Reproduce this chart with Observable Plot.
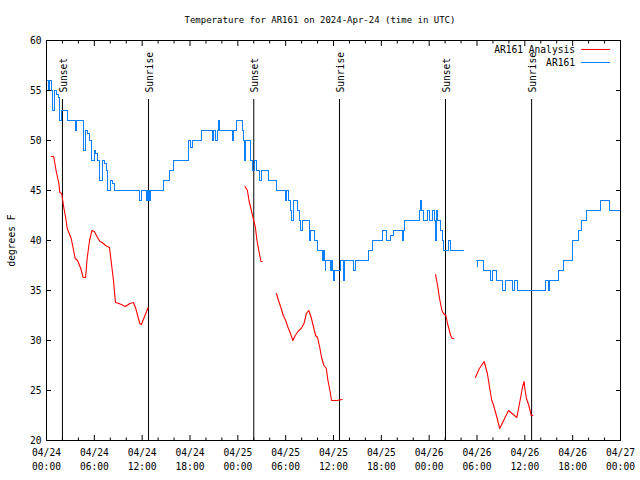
<!DOCTYPE html>
<html><head><meta charset="utf-8">
<script src="https://cdn.jsdelivr.net/npm/d3@7"></script>
<script src="https://cdn.jsdelivr.net/npm/@observablehq/plot@0.6"></script>
<style>
body{margin:0;background:#fff;}
#wrap{position:relative;width:640px;height:480px;font-family:"DejaVu Sans Mono",monospace;font-size:9.6px;color:#000;background:#fff;}
#title{height:30px;box-sizing:border-box;padding-top:14px;line-height:12px;text-align:center;white-space:pre;font-size:9px;}
.lt{position:absolute;right:65px;line-height:12px;white-space:pre;}
.ll{position:absolute;left:581px;width:29px;height:1px;}
</style>
</head><body>
<div id="wrap">
  <div id="title"></div>
  <div id="chart"></div>
  <div id="legend"></div>
</div>
<script>
const titleText = "Temperature for AR161 on 2024-Apr-24 (time in UTC)";
const yLabel = "degrees F";
const seriesNames = ["AR161 Analysis", "AR161"];
const seriesColors = ["#ff0000", "#0a80ff"];

// hours since 04/24 00:00 UTC
const xTicks = [0, 6, 12, 18, 24, 30, 36, 42, 48, 54, 60, 66, 72];
const xMinorTicks = [2, 4, 8, 10, 14, 16, 20, 22, 26, 28, 32, 34, 38, 40, 44, 46, 50, 52, 56, 58, 62, 64, 68, 70];
const xTickLabels = ["04/24\n00:00","04/24\n06:00","04/24\n12:00","04/24\n18:00","04/25\n00:00","04/25\n06:00","04/25\n12:00","04/25\n18:00","04/26\n00:00","04/26\n06:00","04/26\n12:00","04/26\n18:00","04/27\n00:00"];
const yTicks = [20, 25, 30, 35, 40, 45, 50, 55, 60];

const sunT = [2.0, 12.8, 26.0, 36.75, 50.05, 60.85];
const sunLabels = ["Sunset", "Sunrise", "Sunset", "Sunrise", "Sunset", "Sunrise"];

// AR161 observations (step)
const obsT = [0.05,0.27,0.33,0.62,0.70,0.98,1.28,1.45,1.65,1.92,2.6,3.68,3.82,4.68,4.92,5.2,5.45,5.6,5.98,6.2,6.45,6.65,7.05,7.25,7.5,7.65,8.05,8.3,8.5,11.7,11.88,12.6,12.68,12.78,12.88,12.98,13.1,14.7,15.4,15.95,17.8,18.05,18.3,19.5,20.82,20.95,21.25,21.4,21.55,21.75,23.3,23.45,23.85,24.55,24.75,24.85,25.0,25.55,25.85,26.05,26.35,26.75,26.95,27.9,28.85,29.95,30.1,30.3,30.55,30.75,30.95,31.45,31.7,31.9,32.05,32.95,33.15,33.65,33.95,34.6,34.75,34.85,34.95,35.05,35.45,35.6,35.75,35.85,36.0,36.15,36.9,37.2,37.4,38.55,38.75,40.35,40.85,42.15,42.6,43.2,43.55,44.6,44.75,44.95,46.8,46.95,47.05,47.25,47.75,48.05,48.45,48.65,48.8,48.92,49.1,49.45,49.65,49.8,50.4,50.7,52.27,52.28,53.9,54.0,54.1,54.85,55.75,55.95,56.4,57.25,57.55,58.45,58.65,59.1,62.65,62.95,63.15,64.2,64.85,65.95,66.75,67.15,67.7,69.45,70.6,72.0];
const obsV = [56,55,56,55,53,55,54.6,54.3,52,53,52,51,52,49,51,50.7,50,48,49,48.7,48,46,48,47.7,47,45,46,45.7,45,44,45,44,45,44,45,44,45,46,47,48,50,49.3,50,51,50,51,50,51,52,51,50,51,52,51,50,48,50,48,47,48,47,46,47,46,45,44,45,44,43,42,44,43,42,41,42,40,41,40,39,38,39,38,37,38,38,37,38,37,36,37,38,36,38,37,38,39,40,41,40,40.5,41,40,41,42,43,44,43,42,43,42,43,42,40,43,42,41,40,39,40,39,39,null,38,37.4,38,37,36,37,36,35,36,35,36,35,36,35,36,37,38,40,41,42,43,44,43,43];

// AR161 Analysis (null separates segments)
const anaT = [0.6,0.9,1.2,1.55,1.67,1.9,2.17,2.4,2.6,2.9,3.1,3.4,3.6,3.9,4.3,4.6,4.9,5.1,5.4,5.7,6.0,6.4,6.7,7.0,7.4,7.9,8.1,8.4,8.65,9.1,9.9,10.45,10.9,11.2,11.7,11.9,12.2,12.75,
  12.8,
  24.9,25.2,25.4,25.7,25.9,26.2,26.4,26.7,26.9,27.05,
  27.1,
  28.85,29.1,29.4,29.7,30.0,30.3,30.6,30.9,31.2,31.65,31.95,32.3,32.6,32.9,33.2,33.45,33.75,34.0,34.3,34.5,34.8,35.1,35.3,35.6,35.75,36.4,37.1,
  37.2,
  48.8,49.1,49.3,49.6,49.8,50.1,50.3,50.7,50.9,51.1,
  51.2,
  53.8,54.3,54.9,55.3,55.6,55.85,56.05,56.5,56.85,57.4,57.95,59.0,59.4,59.7,59.9,60.0,60.2,60.5,60.8,61.0];
const anaV = [48.4,48.4,47.0,45.7,44.8,44.7,43.3,42.3,41.2,40.6,40.2,39.0,38.2,38.0,37.2,36.3,36.3,38.2,40.0,41.0,40.9,40.3,39.9,39.8,39.5,39.3,38.0,36.0,33.8,33.7,33.4,33.7,33.8,33.2,31.7,31.6,32.2,33.3,
  null,
  45.4,45.0,44.0,43.0,42.3,41.3,40.0,38.7,37.9,37.9,
  null,
  34.7,34.0,33.3,32.5,32.0,31.3,30.7,30.0,30.5,31.0,31.2,31.7,32.7,33.0,32.3,31.5,30.5,30.3,29.2,28.3,27.5,27.2,26.0,24.8,24.0,24.0,24.1,
  null,
  36.6,35.3,34.2,33.0,32.7,32.5,31.7,30.5,30.2,30.2,
  null,
  26.3,27.2,27.9,26.7,25.2,24.0,23.6,22.3,21.2,22.1,23.0,22.3,24.0,25.3,25.9,25.2,24.2,23.5,22.5,22.5];

const obs = obsT.map((t, i) => ({t, v: obsV[i]}));
const ana = anaT.map((t, i) => ({t, v: anaV[i]}));
const sun = sunT.map((t, i) => ({t, label: sunLabels[i]}));

document.getElementById("title").textContent = titleText;

const chart = Plot.plot({
  width: 640, height: 450,
  marginTop: 10, marginBottom: 40, marginLeft: 46, marginRight: 20,
  style: {fontFamily: "'DejaVu Sans Mono', monospace", fontSize: "9.6px", background: "white", color: "black", overflow: "visible"},
  x: {domain: [0, 72]},
  y: {domain: [20, 60]},
  marks: [
    Plot.ruleX(sun, {x: "t", y1: 20, y2: 54.1, stroke: "black", strokeWidth: 1}),
    Plot.text(sun, {x: "t", y: 54.8, text: "label", rotate: -90, textAnchor: "start", dx: 1, fill: "black"}),
    Plot.line(ana, {x: "t", y: "v", stroke: seriesColors[0], strokeWidth: 1.1}),
    Plot.line(obs, {x: "t", y: "v", curve: "step-after", stroke: seriesColors[1], strokeWidth: 1, shapeRendering: "crispEdges"}),
    Plot.frame({stroke: "black", strokeWidth: 1}),
    Plot.axisY({ticks: yTicks, tickSize: -5, tickPadding: 10, tickFormat: d => String(d), label: yLabel, labelAnchor: "center", labelOffset: 38, labelArrow: "none"}),
    Plot.axisY({anchor: "right", ticks: yTicks, tickSize: -5, tickFormat: () => "", label: null}),
    Plot.axisX({ticks: xTicks, tickSize: -5, tickPadding: 11, tickFormat: d => xTickLabels[xTicks.indexOf(d)], lineHeight: 1.45, label: null}),
    Plot.axisX({anchor: "top", ticks: xTicks, tickSize: -5, tickFormat: () => "", label: null}),
    Plot.axisX({ticks: xMinorTicks, tickSize: -2.5, tickFormat: () => "", label: null}),
    Plot.axisX({anchor: "top", ticks: xMinorTicks, tickSize: -2.5, tickFormat: () => "", label: null})
  ]
});
document.getElementById("chart").appendChild(chart);

const legend = document.getElementById("legend");
seriesNames.forEach((name, i) => {
  const y = 49.5 + 13 * i;
  const t = document.createElement("div");
  t.className = "lt"; t.style.top = (y - 6) + "px"; t.textContent = name;
  const l = document.createElement("div");
  l.className = "ll"; l.style.top = Math.floor(y) + "px"; l.style.background = seriesColors[i];
  legend.appendChild(t); legend.appendChild(l);
});
</script>
</body></html>
